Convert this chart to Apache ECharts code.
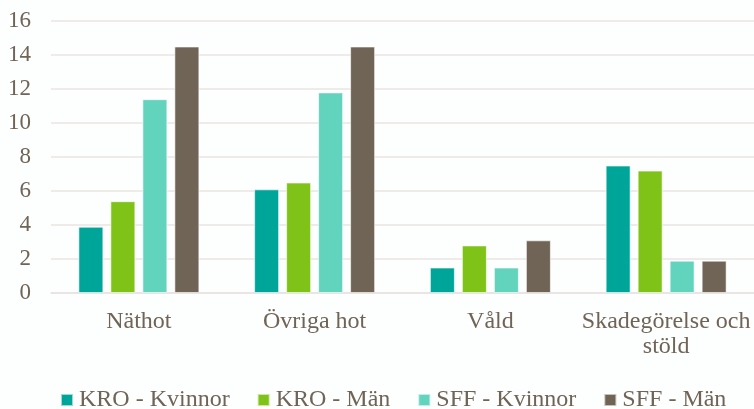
<!DOCTYPE html>
<html>
<head>
<meta charset="utf-8">
<script src="https://cdn.jsdelivr.net/npm/echarts@6/dist/echarts.min.js"></script>
<style>
  html, body { margin: 0; padding: 0; background: #fdfefe; }
  #chart { width: 754px; height: 409px; }
</style>
</head>
<body>
<div id="chart"></div>
<script>
// kategorier och serier
var categories = ['Näthot', 'Övriga hot', 'Våld', 'Skadegörelse och\nstöld'];
var kroKvinnor = [3.9, 6.1, 1.5, 7.5];
var kroMan     = [5.4, 6.5, 2.8, 7.2];
var sffKvinnor = [11.4, 11.8, 1.5, 1.9];
var sffMan     = [14.5, 14.5, 3.1, 1.9];

var textColor = '#6f6456';
var font = '"Liberation Serif", "Times New Roman", serif';

var myChart = echarts.init(document.getElementById('chart'));

function bar (name, data, color) {
    return {
        name: name,
        type: 'bar',
        data: data,
        barWidth: 25,
        barGap: '28%',
        itemStyle: {
            color: color,
            borderColor: 'rgba(255,255,255,0.6)',
            borderWidth: 1
        }
    };
}

var option = {
    backgroundColor: '#fdfefe',
    animation: false,
    grid: {
        left: 51,
        right: 0,
        top: 21,
        bottom: 116
    },
    legend: {
        left: 55,
        top: 383,
        itemWidth: 12,
        itemHeight: 12,
        itemGap: 27,
        icon: 'rect',
        textStyle: {
            color: textColor,
            fontFamily: font,
            fontSize: 24,
            padding: [0, 0, 0, 1]
        }
    },
    xAxis: {
        type: 'category',
        data: categories,
        axisTick: { show: false },
        axisLine: { lineStyle: { color: '#e8e4e1', width: 1.5 } },
        axisLabel: {
            color: textColor,
            fontFamily: font,
            fontSize: 24,
            lineHeight: 25,
            margin: 16,
            interval: 0
        }
    },
    yAxis: {
        type: 'value',
        min: 0,
        max: 16,
        interval: 2,
        axisLine: { show: false },
        axisTick: { show: false },
        splitLine: { lineStyle: { color: '#e8e4e1', width: 1.5 } },
        axisLabel: {
            color: textColor,
            fontFamily: font,
            fontSize: 23,
            margin: 20
        }
    },
    series: [
        bar('KRO - Kvinnor', kroKvinnor, '#00a59a'),
        bar('KRO - Män', kroMan, '#7fc318'),
        bar('SFF - Kvinnor', sffKvinnor, '#62d3bc'),
        bar('SFF - Män', sffMan, '#6f6455')
    ]
};
myChart.setOption(option);
</script>
</body>
</html>
